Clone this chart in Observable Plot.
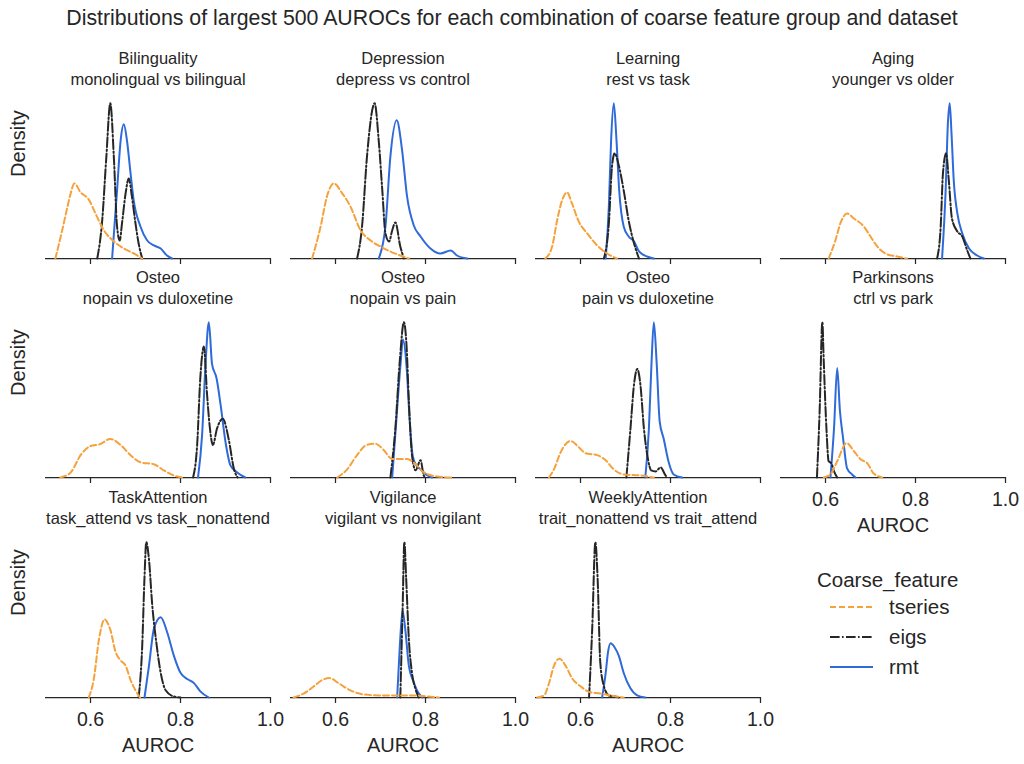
<!DOCTYPE html>
<html><head><meta charset="utf-8">
<script src="https://cdn.jsdelivr.net/npm/d3@7"></script>
<script src="https://cdn.jsdelivr.net/npm/@observablehq/plot@0.6"></script>
<style>
body{margin:0;background:#fff;font-family:"Liberation Sans",Arial,sans-serif;color:#262626}
#root{position:relative;width:1024px;height:764px;overflow:hidden;background:#fff}
.abs{position:absolute;white-space:nowrap}
</style></head><body><div id="root"></div>
<script>
// ---------- data: [AUROC, density (relative)] ----------
const datasets = ["Bilinguality","Depression","Learning","Aging","Osteo","Osteo","Osteo","Parkinsons","TaskAttention","Vigilance","WeeklyAttention"];
const contrasts = ["monolingual vs bilingual","depress vs control","rest vs task","younger vs older","nopain vs duloxetine","nopain vs pain","pain vs duloxetine","ctrl vs park","task_attend vs task_nonattend","vigilant vs nonvigilant","trait_nonattend vs trait_attend"];
const seriesNames = ["tseries","eigs","rmt"];
const xTicks = [0.6, 0.8, 1.0];

const bilTseries = [[0.522,0],[0.537,28],[0.548,50],[0.556,65],[0.564,75],[0.578,66],[0.596,59],[0.611,45],[0.630,28],[0.652,17],[0.674,10],[0.696,5],[0.715,0]];
const bilEigs = [[0.615,0],[0.626,38],[0.635,100],[0.644,155],[0.652,100],[0.659,32],[0.665,18],[0.670,35],[0.678,65],[0.685,80],[0.692,62],[0.700,35],[0.707,15],[0.715,0]];
const bilRmt = [[0.648,0],[0.659,68],[0.667,118],[0.674,134],[0.681,118],[0.689,85],[0.696,58],[0.711,32],[0.726,18],[0.741,13],[0.756,10],[0.770,3],[0.781,0]];

const depTseries = [[0.548,0],[0.567,32],[0.581,62],[0.596,75],[0.615,65],[0.633,52],[0.656,28],[0.678,18],[0.700,12],[0.722,7],[0.744,3],[0.763,0]];
const depEigs = [[0.648,0],[0.659,32],[0.670,102],[0.687,155],[0.696,118],[0.704,68],[0.711,25],[0.719,17],[0.726,28],[0.733,36],[0.744,12],[0.752,0]];
const depRmt = [[0.696,0],[0.711,32],[0.722,102],[0.736,138],[0.748,108],[0.759,62],[0.774,33],[0.789,22],[0.811,10],[0.833,5],[0.856,8],[0.870,3],[0.893,0]];

const lrnTseries = [[0.522,0],[0.537,12],[0.548,38],[0.559,58],[0.570,66],[0.581,55],[0.596,37],[0.615,25],[0.637,13],[0.659,5],[0.681,0]];
const lrnEigs = [[0.652,0],[0.663,35],[0.670,92],[0.676,105],[0.685,93],[0.696,68],[0.707,38],[0.719,15],[0.730,0]];
const lrnRmt = [[0.656,0],[0.663,52],[0.668,118],[0.674,155],[0.680,118],[0.686,68],[0.696,32],[0.707,22],[0.719,17],[0.730,7],[0.748,2],[0.763,0]];

const ageTseries = [[0.607,0],[0.622,18],[0.633,35],[0.648,45],[0.663,40],[0.685,32],[0.700,22],[0.715,12],[0.733,5],[0.759,2],[0.781,0]];
const ageEigs = [[0.848,0],[0.856,32],[0.861,85],[0.868,105],[0.874,78],[0.881,40],[0.893,27],[0.904,22],[0.915,8],[0.922,0]];
const ageRmt = [[0.859,0],[0.867,68],[0.872,135],[0.876,155],[0.880,125],[0.885,78],[0.893,45],[0.904,25],[0.919,10],[0.937,3],[0.952,0]];

const ondTseries = [[0.533,0],[0.556,5],[0.578,22],[0.600,31],[0.622,33],[0.644,38],[0.667,32],[0.689,22],[0.711,15],[0.741,13],[0.763,7],[0.785,2],[0.804,0]];
const ondEigs = [[0.828,0],[0.837,32],[0.844,98],[0.852,129],[0.859,82],[0.865,50],[0.872,32],[0.881,48],[0.894,58],[0.907,38],[0.919,8],[0.927,0]];
const ondRmt = [[0.839,0],[0.848,42],[0.856,115],[0.863,153],[0.870,112],[0.880,98],[0.889,72],[0.900,35],[0.911,12],[0.926,5],[0.944,0]];

const onpTseries = [[0.604,0],[0.626,8],[0.648,22],[0.670,32],[0.689,33],[0.707,27],[0.726,18],[0.737,18],[0.759,18],[0.778,13],[0.796,5],[0.826,1],[0.863,0]];
const onpEigs = [[0.722,0],[0.733,48],[0.743,115],[0.752,152],[0.758,128],[0.763,75],[0.770,22],[0.778,7],[0.789,17],[0.796,2],[0.800,0]];
const onpRmt = [[0.726,0],[0.735,55],[0.744,108],[0.750,135],[0.758,108],[0.765,55],[0.772,20],[0.781,11],[0.789,8],[0.804,2],[0.815,0]];

const opdTseries = [[0.530,0],[0.541,8],[0.556,25],[0.578,36],[0.596,30],[0.611,24],[0.637,22],[0.656,17],[0.674,8],[0.696,3],[0.733,2],[0.763,0]];
const opdEigs = [[0.702,0],[0.711,48],[0.719,92],[0.726,107],[0.733,92],[0.741,48],[0.750,18],[0.757,7],[0.767,6],[0.778,10],[0.789,2],[0.793,0]];
const opdRmt = [[0.744,0],[0.752,48],[0.758,115],[0.763,153],[0.769,115],[0.776,55],[0.785,38],[0.796,15],[0.807,3],[0.826,0]];

const parTseries = [[0.596,0],[0.611,3],[0.626,16],[0.647,34],[0.663,26],[0.678,18],[0.693,14],[0.707,4],[0.726,0]];
const parEigs = [[0.581,0],[0.587,66],[0.593,153],[0.596,116],[0.602,49],[0.607,16],[0.613,14],[0.619,6],[0.626,0]];
const parRmt = [[0.611,0],[0.619,49],[0.626,108],[0.632,66],[0.639,39],[0.648,9],[0.659,3],[0.667,0]];

const taTseries = [[0.596,0],[0.607,17],[0.619,57],[0.631,76],[0.644,66],[0.656,44],[0.667,36],[0.678,31],[0.689,17],[0.700,7],[0.710,0]];
const taEigs = [[0.707,0],[0.715,51],[0.720,117],[0.724,151],[0.730,134],[0.737,91],[0.747,51],[0.756,24],[0.767,7],[0.785,1],[0.800,0]];
const taRmt = [[0.720,0],[0.730,31],[0.741,67],[0.756,78],[0.770,64],[0.785,41],[0.800,24],[0.815,18],[0.830,14],[0.844,6],[0.863,0]];

const vigTseries = [[0.507,0],[0.530,4],[0.552,11],[0.570,17],[0.587,19],[0.607,14],[0.633,7],[0.663,3],[0.700,2],[0.737,2],[0.774,2],[0.804,1],[0.830,0]];
const vigEigs = [[0.744,0],[0.749,84],[0.753,152],[0.757,117],[0.763,57],[0.770,24],[0.778,8],[0.785,0]];
const vigRmt = [[0.737,0],[0.743,51],[0.749,85],[0.755,67],[0.763,31],[0.773,16],[0.781,7],[0.793,0]];

const waTseries = [[0.504,0],[0.519,2],[0.530,14],[0.541,31],[0.553,38],[0.567,31],[0.581,19],[0.600,11],[0.622,5],[0.644,4],[0.667,2],[0.696,0]];
const waEigs = [[0.619,0],[0.626,67],[0.633,152],[0.638,117],[0.644,34],[0.652,11],[0.663,2],[0.678,1],[0.685,0]];
const waRmt = [[0.648,0],[0.656,24],[0.661,44],[0.667,53],[0.676,49],[0.685,41],[0.696,24],[0.711,9],[0.726,2],[0.744,0]];

const tseriesByPanel = [bilTseries, depTseries, lrnTseries, ageTseries, ondTseries, onpTseries, opdTseries, parTseries, taTseries, vigTseries, waTseries];
const eigsByPanel = [bilEigs, depEigs, lrnEigs, ageEigs, ondEigs, onpEigs, opdEigs, parEigs, taEigs, vigEigs, waEigs];
const rmtByPanel = [bilRmt, depRmt, lrnRmt, ageRmt, ondRmt, onpRmt, opdRmt, parRmt, taRmt, vigRmt, waRmt];

// ---------- styling ----------
const FONT = '"Liberation Sans", Arial, sans-serif';
const INK = "#262626";
const colors = {tseries: "#f5a23c", eigs: "#262626", rmt: "#2f6ad9"};
const dashes = {tseries: "6,3", eigs: "9.6,2.4,1.6,2.4", rmt: null};
const LW = 2;

const root = document.getElementById("root");

// main title
const t = document.createElement("div");
t.className = "abs";
t.style.cssText = "left:0;width:1024px;top:7px;text-align:center;font-size:21.3px;line-height:22px;";
t.textContent = "Distributions of largest 500 AUROCs for each combination of coarse feature group and dataset";
root.appendChild(t);

const colX = [45, 290, 535, 780];
const rowTop = [95, 313.5, 534];
const PW = 225, PH = 163, ML = 45, MR = 25, MT = 55, MB = 65;

for (let i = 0; i < datasets.length; i++) {
  const row = Math.floor(i / 4), col = i % 4;
  const showLabels = row === 2 || i === 7;
  const series = {tseries: tseriesByPanel[i], eigs: eigsByPanel[i], rmt: rmtByPanel[i]};
  const ymax = d3.max(Object.values(series).flat(), d => d[1]);
  const marks = [
    Plot.ruleY([0], {stroke: INK, strokeWidth: 1.25}),
    Plot.axisX({ticks: xTicks, tickSize: 6, tickPadding: 9, strokeWidth: 1.25,
      tickFormat: showLabels ? d3.format(".1f") : () => "", fontSize: 19.5, label: null})
  ];
  for (const name of ["rmt", "eigs", "tseries"]) {
    marks.push(Plot.line(series[name], {
      stroke: colors[name], strokeWidth: LW, strokeDasharray: dashes[name],
      curve: "monotone-x", strokeLinejoin: "round"
    }));
  }
  marks.push(Plot.text([datasets[i] + "\n" + contrasts[i]], {
    frameAnchor: "top", lineAnchor: "bottom", dy: -11, fontSize: 16.5, lineHeight: 1.27, fill: INK
  }));
  if (col === 0) marks.push(Plot.text(["Density"], {frameAnchor: "left", rotate: -90, dx: -27, fontSize: 20, fill: INK}));
  if (showLabels) marks.push(Plot.text(["AUROC"], {frameAnchor: "bottom", dy: 54, fontSize: 20, fill: INK}));

  const svg = Plot.plot({
    width: ML + PW + MR, height: MT + PH + MB,
    marginLeft: ML, marginRight: MR, marginTop: MT, marginBottom: MB,
    style: {background: "none", overflow: "visible", fontFamily: FONT, color: INK},
    x: {domain: [0.5, 1.0]},
    y: {domain: [0, ymax * 1.05], axis: null},
    marks
  });
  svg.style.position = "absolute";
  svg.style.left = (colX[col] - ML) + "px";
  svg.style.top = (rowTop[row] - MT) + "px";
  svg.style.maxWidth = "none";
  root.appendChild(svg);
}

// legend
const lg = document.createElement("div");
lg.className = "abs";
lg.style.cssText = "left:817px;top:568px;font-size:20.5px;line-height:24px;";
lg.textContent = "Coarse_feature";
root.appendChild(lg);
seriesNames.forEach((name, k) => {
  const y = 607 + k * 30;
  const item = document.createElement("div");
  item.className = "abs";
  item.style.cssText = `left:830px;top:${y - 12}px;height:24px;font-size:20.5px;line-height:24px;display:flex;align-items:center;`;
  const dash = dashes[name] ? `stroke-dasharray="${dashes[name]}"` : "";
  item.innerHTML = `<svg width="43" height="24" style="display:block"><line x1="0" x2="43" y1="12" y2="12" stroke="${colors[name]}" stroke-width="${LW}" ${dash}/></svg><span style="margin-left:16px">${name}</span>`;
  root.appendChild(item);
});
</script></body></html>
